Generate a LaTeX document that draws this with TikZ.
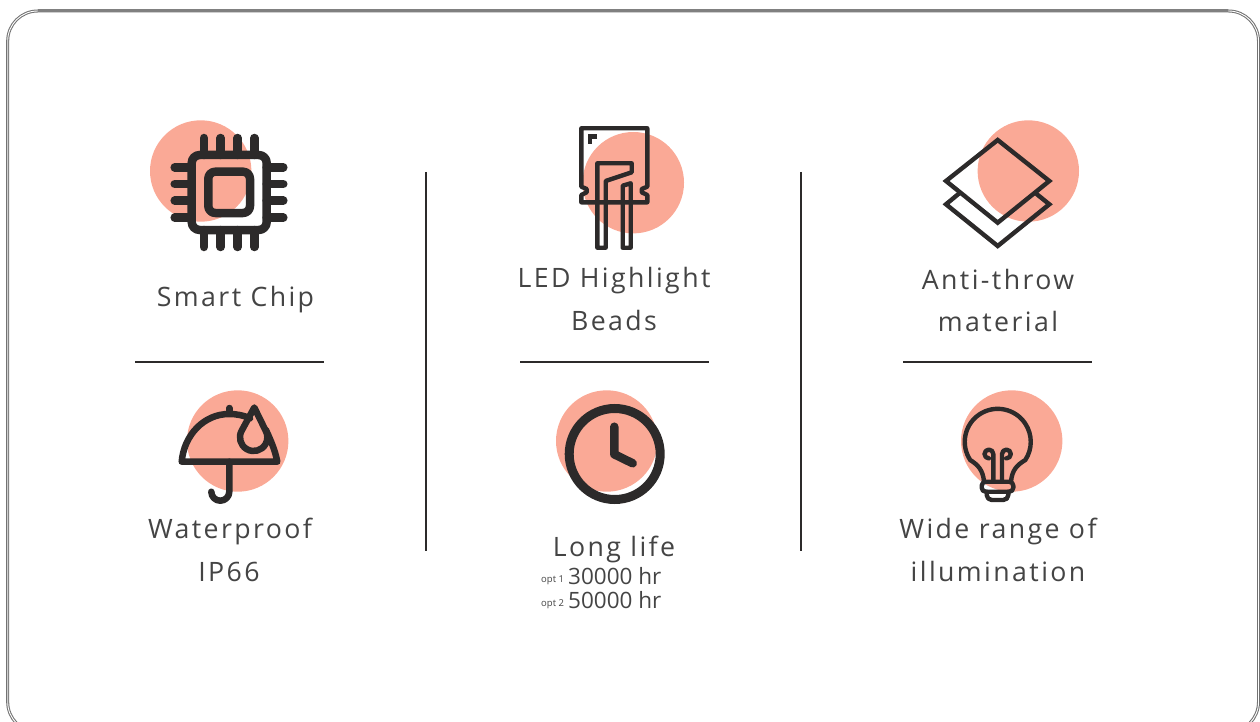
\documentclass[tikz,border=0pt]{standalone}
\usepackage{fontspec}
\setmainfont{Open Sans}
\newfontfamily\spaced[LetterSpace=9,Ligatures=NoCommon]{Open Sans}
\definecolor{blob}{HTML}{FAA996}
\definecolor{ink}{HTML}{2C2A2A}
\definecolor{txt}{HTML}{444444}
\tikzset{
  spot/.style={fill=blob,draw=none},
  rule/.style={draw=ink,line width=2pt},
  thick ink/.style={draw=ink,line width=8.5pt,line cap=round,line join=round},
  mid ink/.style={draw=ink,line width=6.5pt,line cap=round,line join=round},
  thin ink/.style={draw=ink,line width=4.4pt,line cap=round,line join=round},
  label/.style={text=txt,font=\spaced\fontsize{26.7}{30}\selectfont,inner sep=0pt,anchor=base},
  hours/.style={text=txt,font=\fontsize{22.5}{27}\selectfont,inner sep=0pt,anchor=west},
  opt/.style={text=txt,font=\fontsize{9.5}{11}\selectfont,inner sep=0pt,anchor=west}
}
\begin{document}
\begin{tikzpicture}[x=1pt,y=-1pt]
\useasboundingbox (0,0) rectangle (1260,722);
\clip (0,0) rectangle (1260,722);
% frame
\draw[draw=black!55,line width=3pt,rounded corners=30pt] (7.7,11) rectangle (1258.5,732);
\draw[draw=white,line width=.9pt,rounded corners=30pt] (7.7,11) rectangle (1258.5,732);
\draw[draw=black!50,line width=3pt] (38,11) -- (1228,11);
% dividers
\draw[rule] (425.5,172) -- (425.5,551);
\draw[rule] (801,172) -- (801,551);
\draw[rule] (135,361.7) -- (324,361.7);
\draw[rule] (520,361.7) -- (709,361.7);
\draw[rule] (903,361.7) -- (1092,361.7);
% spots
\fill[spot] (200.7,171) circle[radius=50.7pt];
\fill[spot] (633.3,182.7) circle[radius=50.7pt];
\fill[spot] (1028.3,171) circle[radius=50.7pt];
\fill[spot] (237.7,441) circle[radius=50.7pt];
\fill[spot] (606.7,441) circle[radius=50.7pt];
\fill[spot] (1011.7,441) circle[radius=50.7pt];
% chip
\draw[thick ink,rounded corners=8pt] (191.7,155) rectangle (266.7,230);
\draw[thick ink,rounded corners=7pt] (208.3,171.7) rectangle (250,213);
\foreach \px in {204,220.7,237.7,254.3}{
  \draw[thick ink] (\px,138) -- (\px,155);
  \draw[thick ink] (\px,230) -- (\px,247);
}
\foreach \py in {167.3,184,200.7,217.7}{
  \draw[thick ink] (174.7,\py) -- (191.7,\py);
  \draw[thick ink] (266.7,\py) -- (283.3,\py);
}
% LED
\draw[thin ink] (581.3,128.3) -- (647.3,128.3) -- (647.3,186.7) -- (641.7,189) -- (641.7,192.3) -- (647.3,195) -- (647.3,202.3)
  -- (581.3,202.3) -- (581.3,195) -- (586.7,192.3) -- (586.7,189) -- (581.3,186.7) -- cycle;
\draw[draw=ink,line width=4.4pt,line join=miter] (597,136.7) -- (590,136.7) -- (590,144.3);
\draw[thin ink] (597.3,247.7) -- (597.3,163.3) -- (631.7,163.3) -- (631.7,172.3) -- (605.7,181) -- (605.7,247.7) -- cycle;
\draw[thin ink] (622.7,247.7) -- (622.7,185.7) -- (630.7,183.3) -- (630.7,247.7) -- cycle;
% layers
\draw[draw=ink,line width=4.4pt,line join=miter] (997.7,140) -- (1049.3,181) -- (997.7,222.7) -- (946,181) -- cycle;
\draw[draw=ink,line width=4.4pt,line join=miter] (960,192.7) -- (946,204.3) -- (997.7,246) -- (1049.3,204.3) -- (1035,192.7);
% umbrella
\draw[mid ink] (250,418.3) .. controls (244,415.5) and (237,414) .. (229,414)
  .. controls (204,414) and (184,435) .. (181.7,461.7) -- (277.3,461.7)
  .. controls (275,450) and (271,441) .. (266,430);
\draw[mid ink] (229.3,408) -- (229.3,413);
\draw[mid ink] (229.3,461.7) -- (229.3,491.7) arc[start angle=0,end angle=-180,radius=9pt];
\draw[mid ink] (254.3,407.5) -- (241.8,430.45) arc[start angle=150,end angle=390,radius=13.7pt] -- cycle;
% clock
\draw[draw=ink,line width=9pt] (614.7,454) circle[radius=45.5pt];
\draw[thick ink] (614.3,426.7) -- (614.3,454.3) -- (632.7,463.3);
% bulb
\draw[thin ink] (984,481.7) .. controls (983,470) and (978,465) .. (970.2,460)
  arc[start angle=213.4,end angle=-33.4,radius=33pt]
  .. controls (1017,465) and (1012,470) .. (1011,481.7) -- cycle;
\draw[thin ink] (993.3,481.7) -- (993.3,454) arc[start angle=0,end angle=270,radius=4.4pt];
\draw[thin ink] (1002,481.7) -- (1002,454) arc[start angle=180,end angle=-90,radius=4.4pt];
\draw[thin ink,rounded corners=4pt] (984,481.7) -- (981.7,481.7) -- (981.7,491.7) -- (1013.3,491.7) -- (1013.3,481.7) -- (1011,481.7);
\draw[thin ink,rounded corners=5pt] (986.7,491.7) -- (986.7,500) -- (1008.3,500) -- (1008.3,491.7);
% labels
\node[label] (chip) at (235.5,306) {Smart Chip};
\node[label] (led1) at (614,287) {LED Highlight};
\node[label] (led2) at (614,330) {Beads};
\node[label] (anti1) at (998,289) {Anti-throw};
\node[label] (anti2) at (998,331) {material};
\node[label] (wat1) at (230,538) {Waterproof};
\node[label] (wat2) at (229,581) {IP66};
\node[label] (life) at (614,556) {Long life};
\node[label] (wide1) at (998,538) {Wide range of};
\node[label] (wide2) at (998,581) {illumination};
\node[hours] (h1) at (568,576) {30000 hr};
\node[hours] (h2) at (568,600) {50000 hr};
\node[opt] (o1) at (541,580) {opt 1};
\node[opt] (o2) at (541,604) {opt 2};
\end{tikzpicture}
\end{document}
